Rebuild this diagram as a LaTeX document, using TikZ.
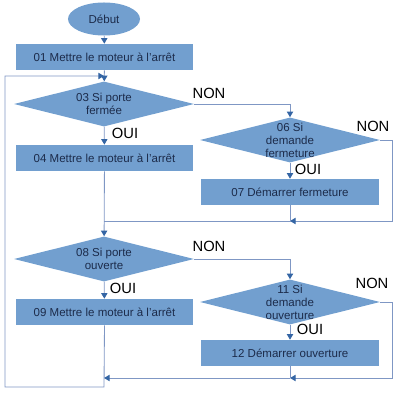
\documentclass[tikz,border=0pt]{standalone}
\usepackage{fontspec}
\setmainfont{Liberation Sans}
\usetikzlibrary{shapes.geometric, arrows.meta}
\definecolor{boxfill}{HTML}{729FCF}
\definecolor{flowline}{HTML}{7F97C4}
\definecolor{tipblue}{HTML}{3465A4}
\definecolor{boxtext}{HTML}{1C2B4A}

\begin{document}
\begin{tikzpicture}[x = 0.025cm, y = -0.025cm,
    every node/.style = {font = \fontsize{8.2}{9.3}\selectfont, inner sep = 0pt},
    action/.style = {rectangle, fill = boxfill, text = boxtext, minimum width = 4.425cm, minimum height = 0.65cm},
    decision/.style = {diamond, fill = boxfill, minimum width = 4.5cm, minimum height = 1.125cm},
    inside/.style = {align = center, text = boxtext, font = \fontsize{8.2}{9.3}\selectfont},
    answer/.style = {font = \fontsize{10.5}{12}\selectfont, text = black},
    flow/.style = {draw = flowline, line width = 0.6pt},
    flowarrow/.style = {flow, -{Triangle[length = 4pt, width = 4.5pt, color = tipblue]}}]

        \useasboundingbox (0,0) rectangle (400,400);

%blocks
        \node[ellipse, fill = boxfill, text = boxtext, minimum width = 1.8cm, minimum height = 0.825cm] (debut) at (104,19) {Début};
        \node[action] (b01) at (104.5,57) {01 Mettre le moteur à l'arrêt};
        \node[decision, label = {[inside]center:03 Si porte\\fermée}] (d03) at (104,104) {};
        \node[action] (b04) at (104.5,158) {04 Mettre le moteur à l'arrêt};
        \node[decision, label = {[inside]center:06 Si\\demande\\fermeture}] (d06) at (290,140) {};
        \node[action] (b07) at (290,192) {07 Démarrer fermeture};
        \node[decision, label = {[inside]center:08 Si porte\\ouverte}] (d08) at (104,259) {};
        \node[action] (b09) at (104.5,312) {09 Mettre le moteur à l'arrêt};
        \node[decision, label = {[inside]center:11 Si\\demande\\ouverture}] (d11) at (290,302) {};
        \node[action] (b12) at (290,353) {12 Démarrer ouverture};

        \coordinate (j01) at (104,76);
        \coordinate (j07) at (290,221);
        \coordinate (j04) at (104,221);
        \coordinate (j12) at (290,378);
        \coordinate (j09) at (104,378);

%connectors
        \draw[flowarrow] (debut) -- (b01);
        \draw[flowarrow] (b01) -- (d03);
        \draw[flowarrow] (b09.south) -- (104,387) -| (5,76) -- (j01);
        \draw[flowarrow] (d03.east) -| (d06.north);
        \draw[flowarrow] (d03) -- (b04);
        \draw[flowarrow] (d06) -- (b07);
        \draw[flowarrow] (d06.east) -- (392,140) |- (j07);
        \draw[flow] (b07.south) -- (j07) -- (j04);
        \draw[flowarrow] (b04) -- (d08);
        \draw[flowarrow] (d08.east) -| (d11.north);
        \draw[flowarrow] (d08) -- (b09);
        \draw[flowarrow] (d11) -- (b12);
        \draw[flowarrow] (d11.east) -- (392,302) |- (j12);
        \draw[flow] (b12.south) -- (j12);
        \draw[flowarrow] (j12) -- (j09);

%answers
        \node[answer] (n03) at (209,93) {NON};
        \node[answer] (o03) at (125,133) {OUI};
        \node[answer] (n06) at (373,126) {NON};
        \node[answer] (o06) at (308,169) {OUI};
        \node[answer] (n08) at (209,246) {NON};
        \node[answer] (o08) at (123,288) {OUI};
        \node[answer] (n11) at (372,283) {NON};
        \node[answer] (o11) at (310,329) {OUI};
\end{tikzpicture}
\end{document}
